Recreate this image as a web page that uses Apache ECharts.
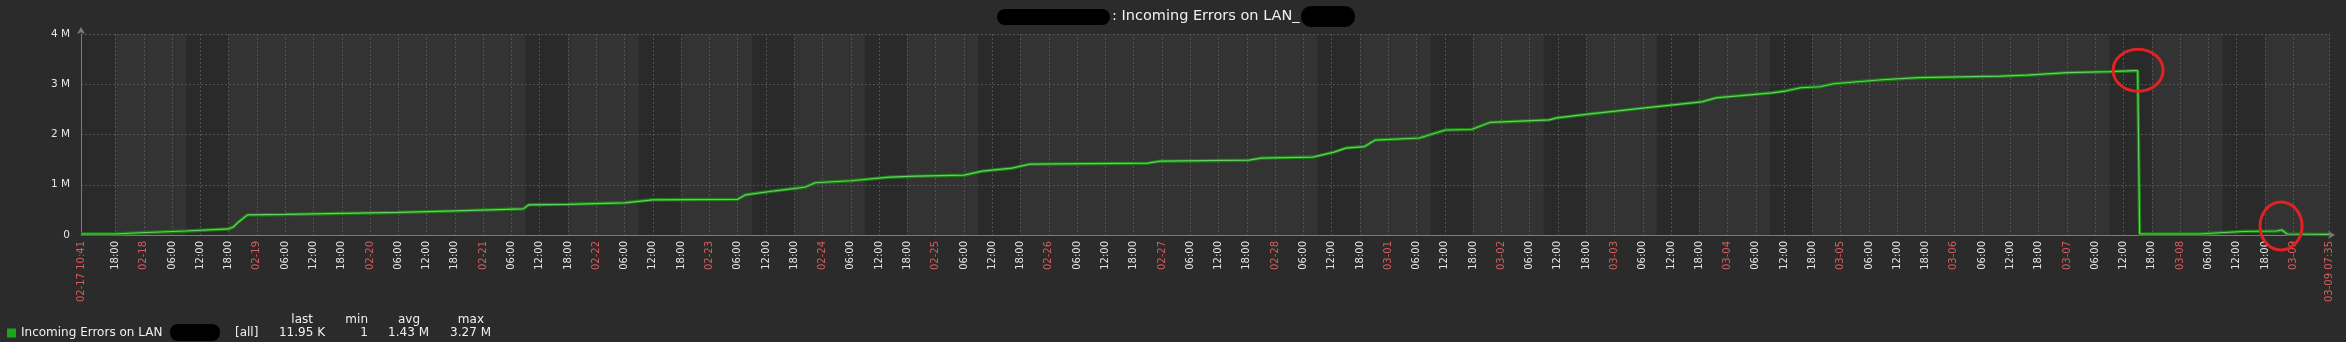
<!DOCTYPE html>
<html><head><meta charset="utf-8">
<script src="https://cdn.jsdelivr.net/npm/echarts@6/dist/echarts.min.js"></script>
<style>html,body{margin:0;padding:0;background:#2b2b2b;}#chart{width:2346px;height:342px;}</style>
</head><body><div id="chart"></div>
<script>
const seriesName = 'Incoming Errors on LAN';
const titleText = ': Incoming Errors on LAN_';
const startLabel = '02-17 10:41';
const endLabel = '03-09 07:35';
const times = [
  '02-17 10:41','02-17 18:00','02-17 21:00','02-18 00:30','02-18 09:00','02-18 18:00','02-18 19:00','02-18 20:00','02-18 22:00',
  '02-19 06:00','02-19 18:00','02-20 06:00','02-20 18:00','02-21 08:30','02-21 09:40','02-21 18:00','02-22 06:00','02-22 09:00',
  '02-22 12:00','02-23 06:00','02-23 07:40','02-23 14:00','02-23 20:10','02-23 22:30','02-24 06:00','02-24 14:10','02-24 20:00',
  '02-25 06:00','02-25 09:50','02-25 16:10','02-25 20:00','02-26 21:00','02-26 23:40','02-27 18:30','02-27 21:00','02-28 08:00',
  '02-28 12:30','02-28 15:00','02-28 19:00','02-28 21:15','03-01 06:40','03-01 09:00','03-01 12:10','03-01 17:40','03-01 21:35',
  '03-02 10:10','03-02 11:45','03-02 18:50','03-03 06:30','03-03 18:30','03-03 21:30','03-04 09:30','03-04 12:30','03-04 15:30',
  '03-04 19:30','03-04 22:30','03-05 08:45','03-05 16:30','03-06 09:50','03-06 15:30','03-07 00:00','03-07 09:05','03-07 14:25',
  '03-07 15:00','03-07 15:25','03-08 04:10','03-08 08:25','03-08 13:20','03-08 20:30','03-08 21:35','03-08 22:40','03-09 07:35'
];
const values = [ // millions
  0.02,0.02,0.035,0.05,0.08,0.12,0.16,0.25,0.40,
  0.41,0.43,0.45,0.48,0.52,0.60,0.61,0.64,0.67,
  0.70,0.71,0.80,0.88,0.95,1.04,1.08,1.15,1.17,
  1.19,1.27,1.33,1.41,1.43,1.47,1.49,1.53,1.55,
  1.65,1.73,1.76,1.89,1.93,2.00,2.09,2.10,2.24,
  2.29,2.33,2.41,2.53,2.65,2.73,2.83,2.87,2.93,
  2.95,3.01,3.09,3.13,3.16,3.18,3.23,3.25,3.27,
  3.27,0.02,0.02,0.045,0.07,0.08,0.10,0.02,0.012
];
const workDays = ['02-17','02-18','02-21','02-22','02-23','02-24','02-25','02-28','03-01','03-02','03-03','03-04','03-07','03-08'];
const workHours = [9, 18];
const yTicks = [0, 1, 2, 3, 4];
const legendScope = '[all]';
const legendHeaders = ['last', 'min', 'avg', 'max'];
const legendValues = ['11.95 K', '1', '1.43 M', '3.27 M'];
const annotations = [
  { at: '03-07 15:05', value: 3.28, rx: 25, ry: 21 },
  { at: '03-08 21:25', value: 0.18, rx: 21, ry: 24 }
];

function toHours(s) {
  const parts = s.split(' ');
  const md = parts[0].split('-').map(Number);
  const day = md[0] === 2 ? md[1] - 17 : 12 + md[1] - 1;
  let h = day * 24;
  if (parts[1]) { const hm = parts[1].split(':').map(Number); h += hm[0] + hm[1] / 60; }
  return h;
}
function pad(n) { return (n < 10 ? '0' : '') + n; }
function dateOf(h) {
  const idx = Math.floor(h / 24 + 1e-9);
  return idx < 12 ? '02-' + pad(17 + idx) : '03-' + pad(idx - 11);
}

const xMin = toHours(startLabel), xMax = toHours(endLabel);
const tickVals = [xMin];
for (let h = Math.ceil(xMin / 6) * 6; h <= xMax; h += 6) {
  if (h - xMin >= 3 && xMax - h >= 3) tickVals.push(h);
}
tickVals.push(xMax);

const points = times.map((t, i) => [toHours(t), values[i]]);
const bands = workDays.map(d => {
  const base = toHours(d);
  return [{ xAxis: Math.max(base + workHours[0], xMin) }, { xAxis: Math.min(base + workHours[1], xMax) }];
});

const FONT = 'DejaVu Sans';
const chart = echarts.init(document.getElementById('chart'), null, { renderer: 'canvas' });
chart.setOption({
  animation: false,
  backgroundColor: '#2b2b2b',
  title: {
    text: titleText, left: 1112, top: 9, padding: 0,
    textStyle: { color: '#f0f0f0', fontSize: 14.5, fontWeight: 'normal', fontFamily: FONT }
  },
  legend: {
    data: [seriesName], left: 7, top: 327, padding: 0, icon: 'rect', itemWidth: 9, itemHeight: 9,
    textStyle: { color: '#f0f0f0', fontSize: 12, fontFamily: FONT }
  },
  grid: { left: 81, right: 17, top: 34, bottom: 107, show: true, backgroundColor: '#333333', borderWidth: 0, outerBoundsMode: 'none' },
  xAxis: {
    type: 'value', min: xMin, max: xMax, z: 1.5,
    axisLine: { show: true, lineStyle: { color: '#7a7a7a', width: 1 }, symbol: ['none', 'arrow'], symbolSize: [6, 7], symbolOffset: [0, 6] },
    axisTick: { show: false, customValues: tickVals },
    splitLine: { show: true, lineStyle: { color: '#535353', type: [2, 2], width: 1 } },
    axisLabel: {
      customValues: tickVals, rotate: 90, margin: 6, hideOverlap: false, showMinLabel: true, showMaxLabel: true,
      fontFamily: FONT, fontSize: 10, color: '#e6e6e6',
      formatter: v => {
        if (Math.abs(v - xMin) < 1e-6) return '{d|' + startLabel + '}';
        if (Math.abs(v - xMax) < 1e-6) return '{d|' + endLabel + '}';
        const hh = Math.round(v % 24);
        if (hh === 0) return '{d|' + dateOf(v) + '}';
        return '{t|' + pad(hh) + ':00}';
      },
      rich: {
        d: { color: '#d65d5d', fontFamily: FONT, fontSize: 10 },
        t: { color: '#e6e6e6', fontFamily: FONT, fontSize: 10 }
      }
    }
  },
  yAxis: {
    type: 'value', min: yTicks[0], max: yTicks[yTicks.length - 1], interval: 1, z: 1.5,
    axisLine: { show: true, lineStyle: { color: '#7a7a7a', width: 1 }, symbol: ['none', 'arrow'], symbolSize: [6, 7], symbolOffset: [0, 7] },
    axisTick: { show: false },
    splitLine: { show: true, lineStyle: { color: '#535353', type: [2, 2], width: 1 } },
    axisLabel: {
      margin: 11, fontFamily: FONT, fontSize: 10.5, color: '#e6e6e6',
      formatter: v => (v === 0 ? '0' : v + ' M')
    }
  },
  series: [
    {
      name: 'work', type: 'line', data: [], z: 1, silent: true,
      markArea: { silent: true, itemStyle: { color: '#2a2a2a' }, data: bands }
    },
    {
      name: seriesName, type: 'line', data: points, showSymbol: false, z: 2, silent: true,
      itemStyle: { color: '#1aa51a' },
      lineStyle: { color: '#1a7c11', width: 3.5 }
    },
    {
      name: 'highlight', type: 'line', data: points, showSymbol: false, z: 3, silent: true,
      itemStyle: { color: '#66cf66' },
      lineStyle: { color: '#66cf66', width: 1.2 }
    }
  ]
});

// Legend statistics, redaction marks and hand-drawn annotations
const txt = (text, x, y, align) => ({
  type: 'text', x, y, silent: true,
  style: { text, fill: '#f0f0f0', font: '12px "DejaVu Sans"', align: align || 'left', verticalAlign: 'middle' }
});
const headerRight = [313, 368, 420, 484];
const valueRight = [325, 368, 429, 491];
const gfx = [txt(legendScope, 235, 333)];
legendHeaders.forEach((h, i) => gfx.push(txt(h, headerRight[i], 320, 'right')));
legendValues.forEach((v, i) => gfx.push(txt(v, valueRight[i], 333, 'right')));
gfx.push({ type: 'rect', silent: true, shape: { x: 997, y: 9, width: 113, height: 16, r: 8 }, style: { fill: '#000' } });
gfx.push({ type: 'rect', silent: true, shape: { x: 1301, y: 6, width: 54, height: 21, r: 10 }, style: { fill: '#000' } });
gfx.push({ type: 'rect', silent: true, shape: { x: 170, y: 324, width: 50, height: 17, r: 8 }, style: { fill: '#000' } });
annotations.forEach(a => {
  const p = chart.convertToPixel({ gridIndex: 0 }, [toHours(a.at), a.value]);
  gfx.push({ type: 'ellipse', silent: true, z: 100, shape: { cx: p[0], cy: p[1], rx: a.rx, ry: a.ry }, style: { fill: 'none', stroke: '#e02222', lineWidth: 3 } });
});
chart.setOption({ graphic: gfx });
</script></body></html>
